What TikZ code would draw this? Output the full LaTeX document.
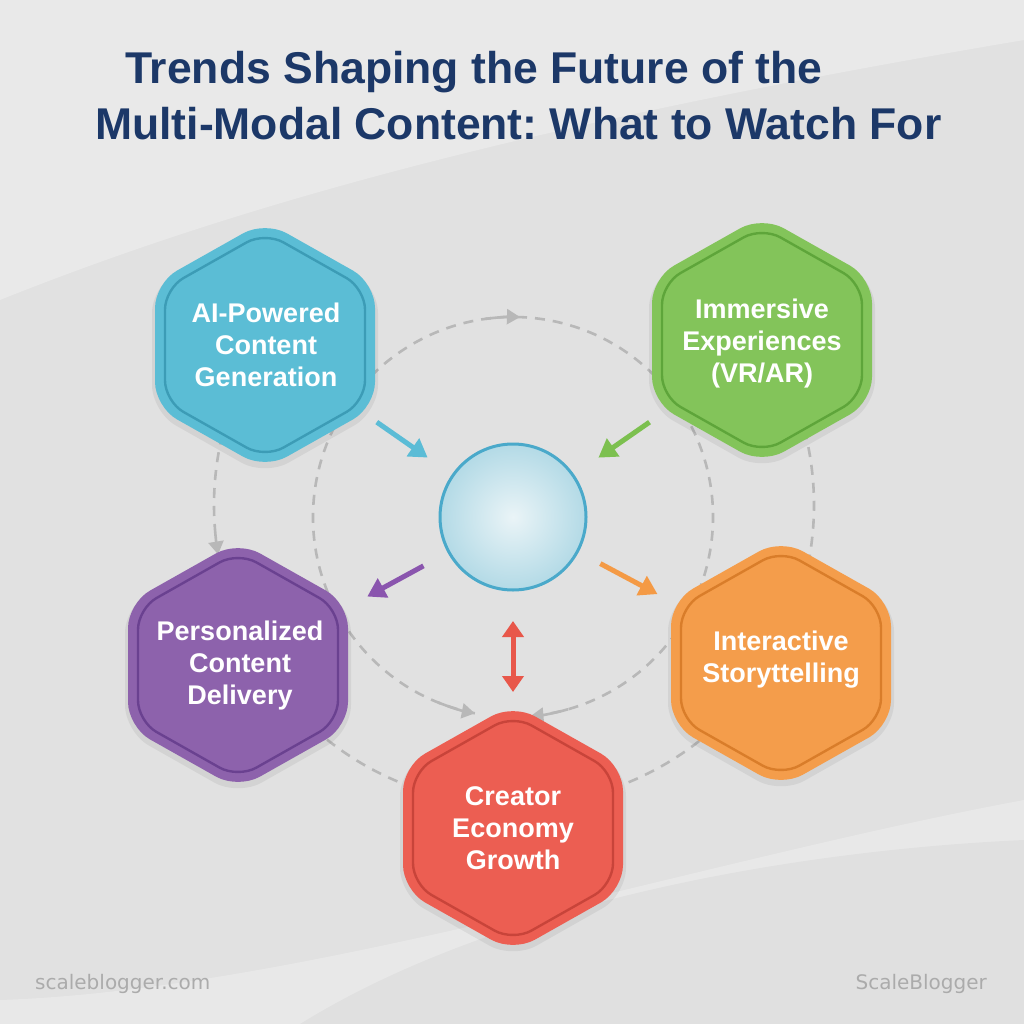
\documentclass[tikz,border=0pt]{standalone}
\usepackage{fontspec}
\setmainfont{Liberation Sans}
\newfontfamily\wmfont{DejaVu Sans}
\usetikzlibrary{arrows.meta,calc}
\frenchspacing
\definecolor{bgbase}{HTML}{E1E1E1}
\definecolor{bglight}{HTML}{E9E9E9}
\definecolor{navy}{HTML}{1C3868}
\definecolor{aifill}{HTML}{5BBDD5}\definecolor{aiedge}{HTML}{3C9CB6}
\definecolor{imfill}{HTML}{83C45A}\definecolor{imedge}{HTML}{5EA53A}
\definecolor{pefill}{HTML}{8D62AC}\definecolor{peedge}{HTML}{6A4190}
\definecolor{orfill}{HTML}{F49D4B}\definecolor{oredge}{HTML}{D97D2A}
\definecolor{crfill}{HTML}{EC5E52}\definecolor{credge}{HTML}{C8443A}
\definecolor{dashgray}{HTML}{B8B8B8}
\definecolor{arblue}{HTML}{5BBCD6}
\definecolor{argreen}{HTML}{7CC04F}
\definecolor{arpurple}{HTML}{8A55AE}
\definecolor{arorange}{HTML}{F49A45}
\definecolor{arred}{HTML}{E8574A}
\definecolor{hubedge}{HTML}{4AA9CA}
\definecolor{hubin}{HTML}{EAF4F7}
\definecolor{hubout}{HTML}{B3DAE6}
\definecolor{wmgray}{HTML}{ABABAB}
\newcommand\hexbg[4]{%
  \fill[black, opacity=0.06, rounded corners=27pt, shift={(#1,#2+4)}]
    (0,-127) -- (113,-63) -- (113,63) -- (0,127) -- (-113,63) -- (-113,-63) -- cycle;
  \fill[#3, rounded corners=25pt, shift={(#1,#2)}]
    (0,-124) -- (110,-62) -- (110,62) -- (0,124) -- (-110,62) -- (-110,-62) -- cycle;
  \draw[#4, line width=2.4pt, rounded corners=21pt, shift={(#1,#2)}]
    (0,-113) -- (100,-56.5) -- (100,56.5) -- (0,113) -- (-100,56.5) -- (-100,-56.5) -- cycle;}
\begin{document}
\begin{tikzpicture}[x=1pt,y=-1pt,
  hexlabel/.style={text=white, align=center, inner sep=0pt,
    font=\bfseries\fontsize{27}{32}\selectfont},
  ring/.style={draw=dashgray, line width=2.6pt, dash pattern=on 10pt off 8pt},
  ringtip/.style={draw=dashgray, line width=2.6pt, -{Triangle[length=13pt,width=15pt]}},
  flow/.style={line width=5pt, -{Triangle[length=18pt,width=21pt]}},
  titletext/.style={text=navy, inner sep=0pt, anchor=base west,
    font=\bfseries\fontsize{44.5}{50}\selectfont},
  wm/.style={text=wmgray, inner sep=0pt, font=\wmfont\fontsize{20}{24}\selectfont}]
\useasboundingbox (0,0) rectangle (1024,1024);
% background
\fill[bgbase] (0,0) rectangle (1024,1024);
\fill[bglight] (0,0) -- (0,300) .. controls (250,200) and (550,120) .. (1024,40) -- (1024,0) -- cycle;
\fill[white, opacity=0.25] (0,1024) -- (0,1000) .. controls (300,990) and (700,860) .. (1024,800) -- (1024,1024) -- cycle;
\fill[black, opacity=0.03] (300,1024) .. controls (500,900) and (800,850) .. (1024,840) -- (1024,1024) -- cycle;
% title
\node[titletext] (t1) at (125,84) {Trends Shaping the Future of the};
\node[titletext] (t2) at (95,140) {Multi-Modal Content: What to Watch For};
% hub
\node[circle, minimum size=146pt, draw=hubedge, line width=3pt, inner color=hubin, outer color=hubout] (hub) at (513,517) {};
% dashed rings
\coordinate (oc) at (514,505);
\draw[ring] (hub.center) ++(101:200) arc (101:445:200);
\draw[ringtip] (hub.center) ++(262:200) arc (262:272:200);
\draw[ringtip] (hub.center) ++(112:200) arc (112:101:200);
\draw[ringtip] (hub.center) ++(74:200) arc (74:85:200);
\draw[ring] (oc) ++(197:300) arc (197:176:300);
\draw[ringtip] (oc) ++(176:300) arc (176:170.5:300);
\draw[ring] (oc) ++(-18:300) arc (-18:12:300);
\draw[ring] (oc) ++(45:300) arc (45:72:300);
\draw[ring] (oc) ++(106:300) arc (106:132:300);
% hexagons
\hexbg{265}{345}{aifill}{aiedge}
\hexbg{762}{340}{imfill}{imedge}
\hexbg{238}{665}{pefill}{peedge}
\hexbg{781}{663}{orfill}{oredge}
\hexbg{513}{828}{crfill}{credge}
\node[hexlabel] (ai) at (266,345) {AI-Powered\\Content\\Generation};
\node[hexlabel] (im) at (762,344) {Immersive\\Experiences\\(VR/AR)};
\node[hexlabel] (pe) at (240,666) {Personalized\\Content\\Delivery};
\node[hexlabel] (in) at (781,660) {Interactive\\Storyttelling};
\node[hexlabel] (cr) at (513,828) {Creator\\Economy\\Growth};
% flows
\draw[flow, arblue, shorten <=135pt, shorten >=104pt] (ai.center) -- (hub.center);
\draw[flow, argreen, shorten <=137pt, shorten >=104pt] (im.center) -- (hub.center);
\draw[flow, arpurple, shorten <=102pt, shorten >=145pt] (hub.center) -- (pe.center);
\draw[flow, arorange, shorten <=99pt, shorten >=140pt] (hub.center) -- (in.center);
\draw[line width=5pt, arred, {Triangle[length=16pt,width=21pt]}-{Triangle[length=16pt,width=21pt]}, shorten <=104pt, shorten >=136pt] (hub.center) -- (cr.center);
% watermarks
\node[wm, anchor=base west] (w1) at (35,989) {scaleblogger.com};
\node[wm, anchor=base east] (w2) at (987,989) {ScaleBlogger};
\end{tikzpicture}
\end{document}
